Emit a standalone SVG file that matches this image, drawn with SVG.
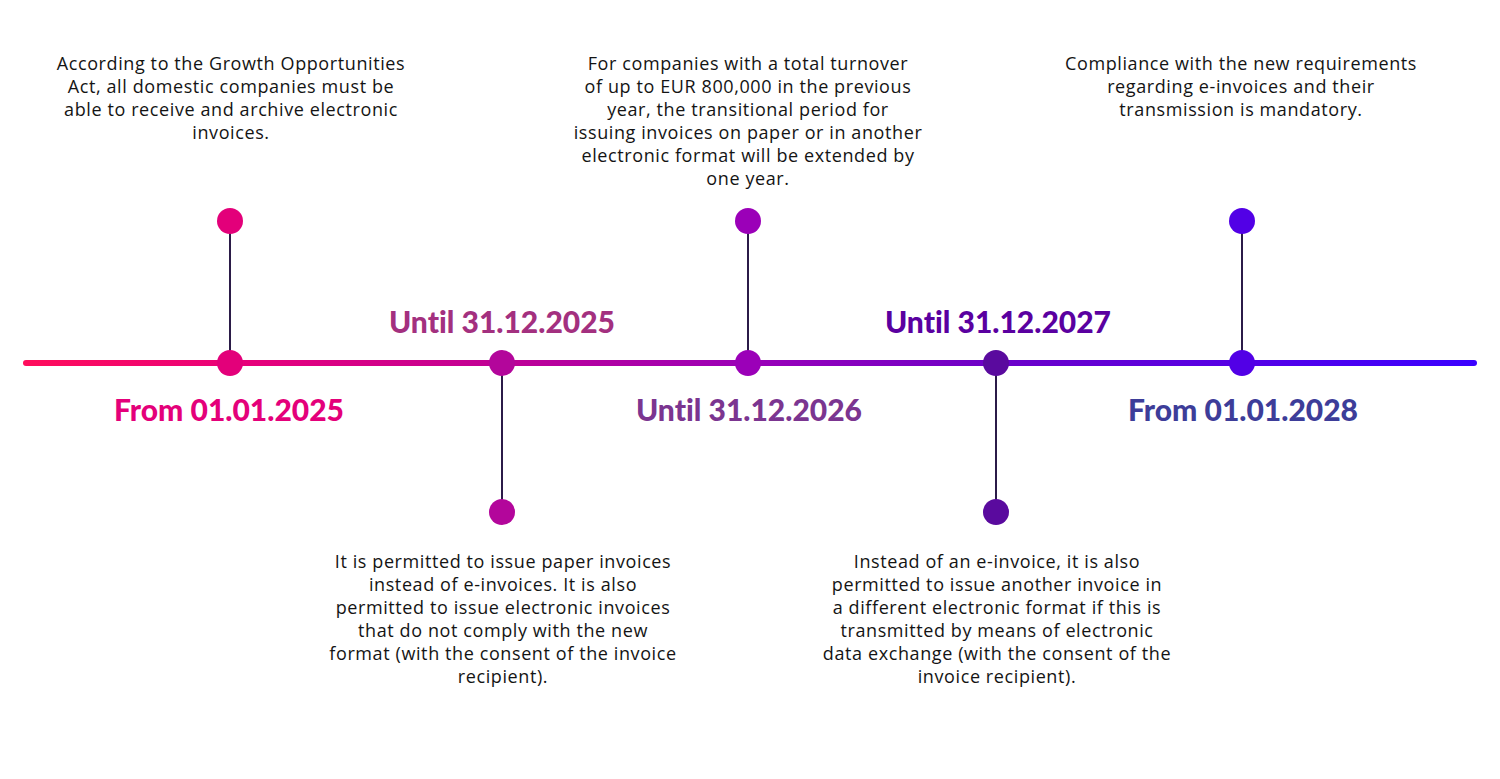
<svg xmlns="http://www.w3.org/2000/svg" width="1500" height="779" viewBox="0 0 1500 779">
<defs>
<linearGradient id="tl" x1="26" y1="0" x2="1474" y2="0" gradientUnits="userSpaceOnUse">
<stop offset="0" stop-color="#ff0d5c"/>
<stop offset="0.15" stop-color="#e8007a"/>
<stop offset="0.33" stop-color="#bf0096"/>
<stop offset="0.5" stop-color="#9a00b8"/>
<stop offset="0.67" stop-color="#6c00c8"/>
<stop offset="0.84" stop-color="#5500e6"/>
<stop offset="1" stop-color="#3a00ff"/>
</linearGradient>
<style>
.desc{font-family:"Open Sans","Liberation Sans",sans-serif;font-size:18px;fill:#141414;text-anchor:middle;letter-spacing:0.6px}
.lbl{font-family:Lato,"Liberation Sans",sans-serif;font-size:30px;font-weight:900;text-anchor:middle;font-variant-ligatures:none}
.stem{stroke:#2b1b48;stroke-width:2}
</style>
</defs>
<rect width="1500" height="779" fill="#ffffff"/>
<g id="timeline">
<line x1="26" y1="363" x2="1474" y2="363" stroke="url(#tl)" stroke-width="6" stroke-linecap="round"/>
</g>
<g id="connectors">
<line class="stem" x1="230" y1="221" x2="230" y2="363"/>
<line class="stem" x1="502" y1="363" x2="502" y2="512"/>
<line class="stem" x1="748" y1="221" x2="748" y2="363"/>
<line class="stem" x1="996" y1="363" x2="996" y2="512"/>
<line class="stem" x1="1242" y1="221" x2="1242" y2="363"/>
</g>
<g id="node1">
<circle cx="230" cy="221" r="13" fill="#e3007a"/>
<circle cx="230" cy="363" r="13" fill="#e3007a"/>
<text class="lbl" x="229" y="421" fill="#e4007a">From 01.01.2025</text>
<text class="desc"><tspan x="231" y="70">According to the Growth Opportunities</tspan><tspan x="231" y="93">Act, all domestic companies must be</tspan><tspan x="231" y="116">able to receive and archive electronic</tspan><tspan x="231" y="139">invoices.</tspan></text>
</g>
<g id="node2">
<circle cx="502" cy="363" r="13" fill="#b3069b"/>
<circle cx="502" cy="512" r="13" fill="#b3069b"/>
<text class="lbl" x="502" y="333" fill="#a3307f">Until 31.12.2025</text>
<text class="desc"><tspan x="503" y="568">It is permitted to issue paper invoices</tspan><tspan x="503" y="591">instead of e-invoices. It is also</tspan><tspan x="503" y="614">permitted to issue electronic invoices</tspan><tspan x="503" y="637">that do not comply with the new</tspan><tspan x="503" y="660">format (with the consent of the invoice</tspan><tspan x="503" y="683">recipient).</tspan></text>
</g>
<g id="node3">
<circle cx="748" cy="221" r="13" fill="#9b00b8"/>
<circle cx="748" cy="363" r="13" fill="#9b00b8"/>
<text class="lbl" x="749" y="421" fill="#7b3590">Until 31.12.2026</text>
<text class="desc"><tspan x="748" y="70">For companies with a total turnover</tspan><tspan x="748" y="93">of up to EUR 800,000 in the previous</tspan><tspan x="748" y="116">year, the transitional period for</tspan><tspan x="748" y="139">issuing invoices on paper or in another</tspan><tspan x="748" y="162">electronic format will be extended by</tspan><tspan x="748" y="185">one year.</tspan></text>
</g>
<g id="node4">
<circle cx="996" cy="363" r="13" fill="#5a0a9e"/>
<circle cx="996" cy="512" r="13" fill="#5a0a9e"/>
<text class="lbl" x="998" y="333" fill="#5a00a0">Until 31.12.2027</text>
<text class="desc"><tspan x="997" y="568">Instead of an e-invoice, it is also</tspan><tspan x="997" y="591">permitted to issue another invoice in</tspan><tspan x="997" y="614">a different electronic format if this is</tspan><tspan x="997" y="637">transmitted by means of electronic</tspan><tspan x="997" y="660">data exchange (with the consent of the</tspan><tspan x="997" y="683">invoice recipient).</tspan></text>
</g>
<g id="node5">
<circle cx="1242" cy="221" r="13" fill="#5200e6"/>
<circle cx="1242" cy="363" r="13" fill="#5200e6"/>
<text class="lbl" x="1243" y="421" fill="#3d3d99">From 01.01.2028</text>
<text class="desc"><tspan x="1241" y="70">Compliance with the new requirements</tspan><tspan x="1241" y="93">regarding e-invoices and their</tspan><tspan x="1241" y="116">transmission is mandatory.</tspan></text>
</g>
</svg>
